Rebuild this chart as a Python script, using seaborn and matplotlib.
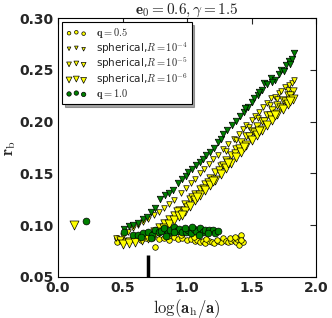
import numpy as np
import pandas as pd
import matplotlib
matplotlib.use("Agg")
import matplotlib.pyplot as plt
import seaborn as sns

# q = 0.5 (yellow circles)
q05_x = [0.46, 0.46, 0.50, 0.55, 0.60, 0.64, 0.68, 0.72, 0.755, 0.78, 0.82, 0.86, 0.90, 0.93,
         0.96, 1.00, 1.03, 1.06, 1.08, 1.10, 1.12, 1.14, 1.17, 1.19, 1.21, 1.24, 1.26, 1.28,
         1.30, 1.32, 1.34, 1.36, 1.38, 1.39, 1.40, 1.41, 1.42, 1.43, 0.85, 0.95, 1.05,
         1.15, 1.23, 1.33, 1.37, 1.42]
q05_r = [0.088, 0.084, 0.086, 0.085, 0.087, 0.086, 0.088, 0.089, 0.079, 0.087, 0.088, 0.086,
         0.089, 0.087, 0.088, 0.086, 0.087, 0.085, 0.086, 0.084, 0.085, 0.083, 0.085, 0.084,
         0.083, 0.085, 0.084, 0.088, 0.085, 0.084, 0.085, 0.086, 0.084, 0.087, 0.081, 0.088,
         0.0905, 0.084, 0.090, 0.091, 0.089, 0.087, 0.086, 0.088, 0.089, 0.086]

# spherical, R = 1e-4 (small yellow triangles)
r4_x = [0.45, 0.50, 0.54, 0.58, 0.62, 0.66, 0.70, 0.74, 0.78, 0.82, 0.86, 0.90, 0.95, 0.99,
        1.03, 1.06, 1.10, 1.13, 1.17, 1.20, 1.24, 1.28, 1.32, 1.36, 1.40, 1.43, 1.46, 1.50,
        1.53, 1.56, 1.59, 1.62, 1.65, 1.68, 1.71, 1.73, 1.76, 1.79, 1.81, 1.83,
        1.30, 1.38, 1.48, 1.55, 1.64, 1.70, 1.78]
r4_r = [0.088, 0.090, 0.093, 0.097, 0.100, 0.103, 0.106, 0.110, 0.113, 0.117, 0.120, 0.124,
        0.131, 0.136, 0.141, 0.145, 0.150, 0.154, 0.159, 0.164, 0.168, 0.174, 0.178, 0.183,
        0.188, 0.193, 0.197, 0.202, 0.205, 0.209, 0.214, 0.218, 0.223, 0.224, 0.228, 0.230,
        0.233, 0.235, 0.237, 0.240, 0.172, 0.182, 0.195, 0.204, 0.216, 0.222, 0.231]

# spherical, R = 1e-5 (medium yellow triangles)
r5_x = [0.48, 0.55, 0.60, 0.65, 0.70, 0.74, 0.78, 0.82, 0.86, 0.90, 0.94, 0.98, 1.02, 1.06,
        1.10, 1.14, 1.18, 1.22, 1.26, 1.30, 1.34, 1.38, 1.42, 1.46, 1.50, 1.54, 1.58, 1.62,
        1.66, 1.70, 1.74, 1.78, 1.82, 1.00, 1.12, 1.25, 1.37, 1.48, 1.60, 1.72,
        0.92, 1.04, 1.16, 1.28, 1.40, 1.52, 1.64, 1.76, 1.80]
r5_r = [0.086, 0.085, 0.087, 0.088, 0.091, 0.094, 0.098, 0.102, 0.106, 0.110, 0.115, 0.120,
        0.125, 0.130, 0.135, 0.140, 0.146, 0.151, 0.157, 0.163, 0.168, 0.174, 0.180, 0.186,
        0.191, 0.196, 0.201, 0.206, 0.211, 0.216, 0.221, 0.226, 0.230, 0.118, 0.136, 0.153,
        0.170, 0.186, 0.201, 0.214, 0.114, 0.127, 0.142, 0.158, 0.175, 0.190, 0.206, 0.220,
        0.226]

# spherical, R = 1e-6 (large yellow triangles)
r6_x = [0.12, 0.50, 0.55, 0.60, 0.65, 0.70, 0.74, 0.78, 0.82, 0.86, 0.90, 0.94, 0.98, 1.02,
        1.06, 1.10, 1.14, 1.18, 1.22, 1.26, 1.30, 1.34, 1.38, 1.42, 1.46, 1.50, 1.54, 1.58,
        1.62, 1.66, 1.70, 1.74, 1.78, 1.82, 0.96, 1.08, 1.20, 1.32, 1.44, 1.56, 1.68, 1.80]
r6_r = [0.100, 0.082, 0.083, 0.084, 0.086, 0.088, 0.090, 0.093, 0.097, 0.101, 0.105, 0.109,
        0.114, 0.119, 0.124, 0.129, 0.134, 0.139, 0.144, 0.149, 0.155, 0.160, 0.166, 0.171,
        0.177, 0.182, 0.187, 0.192, 0.197, 0.202, 0.207, 0.212, 0.217, 0.222, 0.110, 0.127,
        0.143, 0.160, 0.176, 0.191, 0.206, 0.220]

# q = 1.0 (green circles)
q10_x = [0.22, 0.51, 0.58, 0.62, 0.66, 0.70, 0.73, 0.755, 0.78, 0.80, 0.82, 0.85, 0.87, 0.895,
         0.92, 0.94, 0.96, 0.99, 1.01, 1.03, 1.05, 1.07, 1.10, 1.12, 1.14, 1.17, 1.20, 1.22, 1.24,
         0.64, 0.72, 0.84, 0.90, 0.98, 1.04, 1.09, 1.16]
q10_r = [0.104, 0.093, 0.091, 0.0905, 0.092, 0.093, 0.091, 0.095, 0.093, 0.094, 0.097, 0.092,
         0.095, 0.098, 0.094, 0.096, 0.093, 0.093, 0.095, 0.092, 0.096, 0.094, 0.097, 0.093,
         0.095, 0.095, 0.095, 0.092, 0.094, 0.089, 0.088, 0.090, 0.093, 0.097, 0.098, 0.091,
         0.092]

# unlabelled green triangles (upper branch)
gt_x = [0.51, 0.55, 0.58, 0.62, 0.66, 0.69, 0.72, 0.75, 0.79, 0.83, 0.86, 0.89, 0.93, 0.96,
        0.99, 1.01, 1.04, 1.07, 1.10, 1.12, 1.15, 1.18, 1.21, 1.24, 1.26, 1.28, 1.31, 1.35,
        1.38, 1.41, 1.44, 1.47, 1.50, 1.52, 1.55, 1.58, 1.60, 1.62, 1.65, 1.68, 1.71, 1.73,
        1.75, 1.77, 1.79, 1.81, 1.83, 1.45, 1.56, 1.66, 1.80]
gt_r = [0.096, 0.099, 0.100, 0.102, 0.106, 0.108, 0.113, 0.117, 0.125, 0.129, 0.131, 0.134,
        0.141, 0.145, 0.148, 0.151, 0.154, 0.158, 0.161, 0.164, 0.168, 0.171, 0.175, 0.180,
        0.183, 0.188, 0.192, 0.197, 0.201, 0.205, 0.209, 0.214, 0.219, 0.223, 0.226, 0.231,
        0.237, 0.236, 0.242, 0.240, 0.246, 0.250, 0.249, 0.255, 0.259, 0.261, 0.266, 0.213,
        0.229, 0.238, 0.256]

vline_x = 0.7
vline_top = 0.071

sns.set_style("white")
plt.rcParams["mathtext.fontset"] = "cm"
plt.rcParams["font.family"] = ["DejaVu Sans"]

fig = plt.figure(figsize=(3.32, 3.18), dpi=100)
ax = fig.add_axes([0.175, 0.129, 0.777, 0.814])

yel = "#ffff00"
grn = "#008000"
kw = dict(edgecolor="black", linewidth=0.5, ax=ax, legend=False)

series = [
    (q05_x, q05_r, "o", 16, yel, r"$\mathbf{q}=0.5$"),
    (r4_x, r4_r, "v", 16, yel, r"spherical,$R=10^{-4}$"),
    (r5_x, r5_r, "v", 28, yel, r"spherical,$R=10^{-5}$"),
    (r6_x, r6_r, "v", 42, yel, r"spherical,$R=10^{-6}$"),
    (gt_x, gt_r, "v", 22, grn, None),
    (q10_x, q10_r, "o", 24, grn, r"$\mathbf{q}=1.0$"),
]
handles, labels = [], []
for xs, ys, mk, sz, col, lab in series:
    sns.scatterplot(x=xs, y=ys, marker=mk, s=sz, color=col, **kw)
    if lab is not None:
        handles.append(ax.collections[-1])
        labels.append(lab)

ax.vlines(vline_x, 0.05, vline_top, color="black", linewidth=2.5)

ax.set_xlim(0, 2)
ax.set_ylim(0.05, 0.30)
ax.set_xticks([0, 0.5, 1.0, 1.5, 2.0])
ax.set_yticks([0.05, 0.10, 0.15, 0.20, 0.25, 0.30])
ax.tick_params(direction="in", top=True, right=True, length=4, width=0.8, labelsize=10, pad=3)
for lab in ax.get_xticklabels() + ax.get_yticklabels():
    lab.set_fontweight("bold")
for sp in ax.spines.values():
    sp.set_color("black")
    sp.set_linewidth(0.8)

ax.set_xlabel(r"$\log(\mathbf{a}_\mathrm{h}/\mathbf{a})$", fontsize=12, labelpad=1)
ax.set_ylabel(r"$\mathbf{r}_\mathrm{b}$", fontsize=12, labelpad=1)
ax.set_title(r"$\mathbf{e}_0=0.6,\gamma=1.5$", fontsize=11, pad=3)

leg = ax.legend(handles, labels, loc="upper left", fontsize=7.5, scatterpoints=3,
                scatteryoffsets=[0.375, 0.5, 0.3125], shadow=True, fancybox=False,
                framealpha=1, edgecolor="black", borderpad=0.35, labelspacing=0.0,
                handletextpad=0.9, handlelength=2.0, borderaxespad=0.4, markerscale=0.65)
leg.get_frame().set_linewidth(0.8)

fig.savefig("out.png", dpi=100)
